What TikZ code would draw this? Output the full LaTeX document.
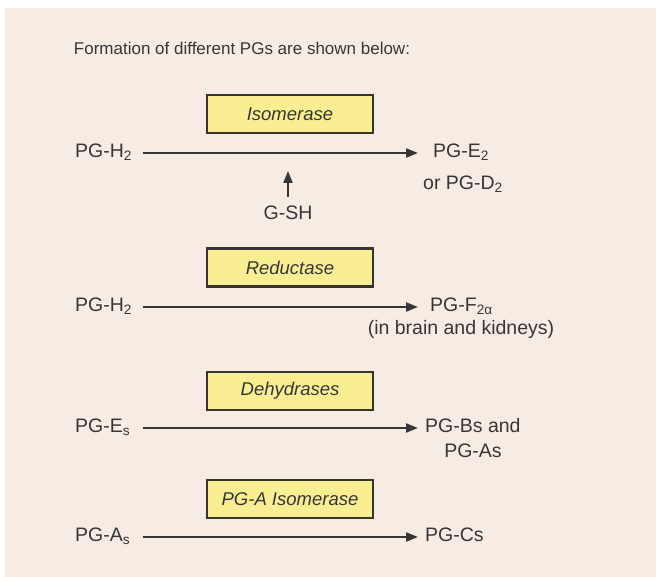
\documentclass[tikz,border=0pt]{standalone}
\usepackage{fontspec}
\setmainfont{Liberation Sans}
\usetikzlibrary{arrows.meta}
\definecolor{bg}{HTML}{F6ECE3}
\definecolor{ink}{HTML}{363636}
\definecolor{boxfill}{HTML}{FAEE92}
\definecolor{boxline}{HTML}{36342C}
\begin{document}
\begin{tikzpicture}[x=1pt,y=-1pt,
  lbl/.style={font=\fontsize{19.5}{23}\selectfont, text=ink, inner sep=0pt, text height=14pt, text depth=5pt},
  left lbl/.style={lbl, anchor=west, text width=60pt, align=left},
  right lbl/.style={lbl, anchor=west},
  enz/.style={draw=boxline, line width=2.2pt, fill=boxfill, minimum width=166pt, minimum height=38pt, inner sep=0pt, font=\fontsize{18.5}{22}\selectfont\itshape, text=ink},
  arr/.style={draw=ink, line width=2.2pt, -{Triangle[length=12pt,width=9pt]}}]
\useasboundingbox (0,0) rectangle (656,577);
\fill[white] (0,0) rectangle (656,577);
\fill[bg] (5,8) rectangle (656,577);

\node[font=\fontsize{17}{20}\selectfont, text=ink, inner sep=0pt] (title) at (242,48) {Formation of different PGs are shown below:};

% Row 1
\node[enz] (iso) at (290,114) {Isomerase};
\node[left lbl] (h2a) at (75,153) {PG-H\textsubscript{2}};
\node[right lbl] (e2) at (433,153) {PG-E\textsubscript{2}};
\node[lbl] (d2) at (463,185) {or PG-D\textsubscript{2}};
\draw[arr, shorten <=8pt, shorten >=15pt] (h2a) -- (e2);
\node[lbl] (gsh) at (288,215) {G-SH};
\coordinate (tip1) at (288,171);
\draw[arr, shorten <=8pt] (gsh) -- (tip1);

% Row 2
\node[enz] (red) at (290,267.5) {Reductase};
\node[left lbl] (h2b) at (75,307) {PG-H\textsubscript{2}};
\node[right lbl] (f2) at (430,307) {PG-F\textsubscript{2α}};
\node[lbl] (kid) at (461,330) {(in brain and kidneys)};
\draw[arr, shorten <=8pt, shorten >=12pt] (h2b) -- (f2);

% Row 3
\node[enz] (dehy) at (290,391) {Dehydrases};
\node[left lbl] (es) at (75,428) {PG-E\textsubscript{s}};
\node[right lbl] (bs) at (425,428) {PG-Bs and};
\node[lbl] (as) at (473,453) {PG-As};
\draw[arr, shorten <=8pt, shorten >=7pt] (es) -- (bs);

% Row 4
\node[enz] (pgaiso) at (290,499) {PG-A Isomerase};
\node[left lbl] (as2) at (75,537) {PG-A\textsubscript{s}};
\node[right lbl] (cs) at (425,537) {PG-Cs};
\draw[arr, shorten <=8pt, shorten >=7pt] (as2) -- (cs);
\end{tikzpicture}
\end{document}
